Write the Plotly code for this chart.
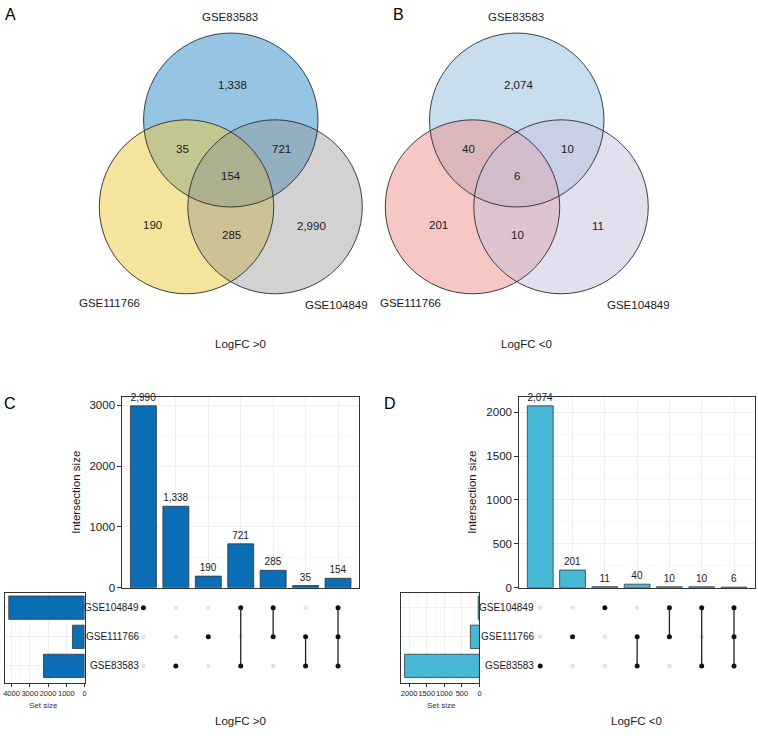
import plotly.graph_objects as go

# ------------------------------------------------------------------ data
venn_sets = ["GSE83583", "GSE111766", "GSE104849"]
venn_regions = ["GSE83583 only", "GSE111766 & GSE83583", "GSE104849 & GSE83583",
                "all three", "GSE111766 only", "GSE104849 & GSE111766", "GSE104849 only"]
venn_up_counts = [1338, 35, 721, 154, 190, 285, 2990]
venn_down_counts = [2074, 40, 10, 6, 201, 10, 11]

upset_sets = ["GSE104849", "GSE111766", "GSE83583"]          # top -> bottom
up_sizes = [2990, 1338, 190, 721, 285, 35, 154]
up_members = [["GSE104849"], ["GSE83583"], ["GSE111766"],
              ["GSE104849", "GSE83583"], ["GSE104849", "GSE111766"],
              ["GSE111766", "GSE83583"], ["GSE104849", "GSE111766", "GSE83583"]]
down_sizes = [2074, 201, 11, 40, 10, 10, 6]
down_members = [["GSE83583"], ["GSE111766"], ["GSE104849"],
                ["GSE111766", "GSE83583"], ["GSE104849", "GSE111766"],
                ["GSE104849", "GSE83583"], ["GSE104849", "GSE111766", "GSE83583"]]

up_bar_ticks = [0, 1000, 2000, 3000]
up_bar_minor = [500, 1500, 2500]
down_bar_ticks = [0, 500, 1000, 1500, 2000]
down_bar_minor = [250, 750, 1250, 1750]
up_set_ticks = [0, 1000, 2000, 3000, 4000]
up_set_minor = [500, 1500, 2500, 3500]
down_set_ticks = [0, 500, 1000, 1500, 2000]
down_set_minor = [250, 750, 1250, 1750]

# ------------------------------------------------------------------ layout helpers
W, H = 758, 736
FONT = "Liberation Sans, Arial, Helvetica, sans-serif"
TXT = "#1a1a1a"
GRID = "#EBEBEB"
GRID_MINOR = "#F4F4F4"
BORDER = "#333333"


def px(xp):
    return xp / W


def py(yp):
    return 1 - yp / H


def ann(**kw):
    d = dict(showarrow=False, xanchor="center", yanchor="middle")
    d.update(kw)
    return d


fig = go.Figure()
shapes = []
annotations = []

# ------------------------------------------------------------------ Venn diagrams
venn_panels = [
    dict(center=(230.5, 177), counts=venn_up_counts,
         fills=["rgba(45,139,201,0.5)", "rgba(235,201,55,0.5)", "rgba(142,142,142,0.4)"],
         labels=[(229, 17), (108, 305), (336, 308)], title=(240, 347), title_text="LogFC >0",
         letter=("A", 9, 15)),
    dict(center=(518, 177), counts=venn_down_counts,
         fills=["rgba(145,189,221,0.5)", "rgba(237,143,137,0.5)", "rgba(197,193,221,0.5)"],
         labels=[(517, 17), (411, 305), (640, 308)], title=(527, 347), title_text="LogFC <0",
         letter=("B", 399, 15)),
]
circle_offsets = [(-0.5, -56), (-45, 31.5), (44, 31.5)]
R = 87.7
region_offsets = [(1, -91), (-49, -27), (50, -27), (0, 0), (-79, 50), (0, 60), (81, 51)]

for p in venn_panels:
    cx, cy = p["center"]
    for (dx, dy), fc in zip(circle_offsets, p["fills"]):
        shapes.append(dict(type="circle", xref="x", yref="y",
                           x0=cx + dx - R, x1=cx + dx + R, y0=cy + dy - R, y1=cy + dy + R,
                           fillcolor=fc, line=dict(width=0)))
    for (dx, dy) in circle_offsets:
        shapes.append(dict(type="circle", xref="x", yref="y",
                           x0=cx + dx - R, x1=cx + dx + R, y0=cy + dy - R, y1=cy + dy + R,
                           fillcolor="rgba(0,0,0,0)", line=dict(width=0.9, color="#2a2a2a")))
    for (dx, dy), v in zip(region_offsets, p["counts"]):
        annotations.append(ann(x=cx + dx, y=cy + dy, xref="x", yref="y", text=f"{v:,}",
                               font=dict(size=11.5, color=TXT, family=FONT)))
    for (lx, ly), name in zip(p["labels"], venn_sets):
        annotations.append(ann(x=lx, y=ly, xref="x", yref="y", text=name,
                               font=dict(size=11.5, color=TXT, family=FONT)))
    annotations.append(ann(x=p["title"][0], y=p["title"][1], xref="x", yref="y",
                           text=p["title_text"], font=dict(size=11.5, color=TXT, family=FONT)))
    L, lx, ly = p["letter"]
    annotations.append(ann(x=px(lx), y=py(ly), xref="paper", yref="paper", text=L,
                           font=dict(size=16, color="#000", family=FONT)))

# ------------------------------------------------------------------ UpSet plots
row_of = {s: 3 - i for i, s in enumerate(upset_sets)}

upset_panels = [
    dict(sizes=up_sizes, members=up_members, color="#0B6DB5",
         bar_ticks=up_bar_ticks, bar_minor=up_bar_minor,
         set_ticks=up_set_ticks, set_minor=up_set_minor,
         bar_dom=(121, 359), set_dom=(3, 83), ytitle_x=75, name_right=140,
         setsize_label=(42, 711), bottom=(240, 727), bottom_text="LogFC >0",
         letter=("C", 8, 407), ax=("2", "3", "4")),
    dict(sizes=down_sizes, members=down_members, color="#47B8D5",
         bar_ticks=down_bar_ticks, bar_minor=down_bar_minor,
         set_ticks=down_set_ticks, set_minor=down_set_minor,
         bar_dom=(520, 757), set_dom=(401, 480), ytitle_x=473, name_right=537,
         setsize_label=(442, 711), bottom=(638, 727), bottom_text="LogFC <0",
         letter=("D", 390, 407), ax=("5", "6", "7")),
]

bar_ydom = [py(592.5), py(400)]
mat_ydom = [py(689), py(598)]
xcat_range = [0.35, 7.65]
row_range = [0.4, 3.5]

layout_axes = {}
layout_axes["xaxis"] = dict(domain=[0, 1], range=[0, W], visible=False)
layout_axes["yaxis"] = dict(domain=[py(380), 1], range=[380, 0], visible=False)

for p in upset_panels:
    ab, am, aset = p["ax"]
    n = len(p["sizes"])
    xs = list(range(1, n + 1))
    # intersection bars
    fig.add_trace(go.Bar(x=xs, y=p["sizes"], width=0.8, xaxis="x" + ab, yaxis="y" + ab,
                         marker=dict(color=p["color"], line=dict(color=BORDER, width=0.8)),
                         text=[f"{v:,}" for v in p["sizes"]], textposition="outside",
                         textfont=dict(size=10, color=TXT, family=FONT),
                         constraintext="none", cliponaxis=False, hoverinfo="skip"))
    # matrix
    inx, iny, acx, acy, lx, ly = [], [], [], [], [], []
    for x, mem in zip(xs, p["members"]):
        rows = [row_of[s] for s in mem]
        for s in upset_sets:
            r = row_of[s]
            if s in mem:
                acx.append(x); acy.append(r)
            else:
                inx.append(x); iny.append(r)
        if len(rows) > 1:
            lx += [x, x, None]
            ly += [min(rows), max(rows), None]
    fig.add_trace(go.Scatter(x=inx, y=iny, mode="markers", xaxis="x" + am, yaxis="y" + am,
                             marker=dict(size=4.5, color="#E3E3E3"), hoverinfo="skip"))
    fig.add_trace(go.Scatter(x=lx, y=ly, mode="lines", xaxis="x" + am, yaxis="y" + am,
                             line=dict(color="#222222", width=1.3), hoverinfo="skip"))
    fig.add_trace(go.Scatter(x=acx, y=acy, mode="markers", xaxis="x" + am, yaxis="y" + am,
                             marker=dict(size=5, color="#111111"), hoverinfo="skip"))
    # set sizes
    set_sizes = [sum(v for v, m in zip(p["sizes"], p["members"]) if s in m) for s in upset_sets]
    fig.add_trace(go.Bar(x=set_sizes, y=[row_of[s] for s in upset_sets], orientation="h",
                         width=0.8, xaxis="x" + aset, yaxis="y" + aset,
                         marker=dict(color=p["color"], line=dict(color=BORDER, width=0.8)),
                         hoverinfo="skip"))

    bd = [px(p["bar_dom"][0]), px(p["bar_dom"][1])]
    sd = [px(p["set_dom"][0]), px(p["set_dom"][1])]
    boxed = dict(showline=True, mirror=True, linecolor=BORDER, linewidth=1)
    layout_axes["xaxis" + ab] = dict(domain=bd, range=xcat_range, anchor="y" + ab,
                                     tickvals=xs, showticklabels=False, ticks="",
                                     showgrid=True, gridcolor=GRID, gridwidth=0.8,
                                     zeroline=False, **boxed)
    layout_axes["yaxis" + ab] = dict(domain=bar_ydom, range=[0, 1.05 * max(p["sizes"])],
                                     anchor="x" + ab, tickvals=p["bar_ticks"],
                                     ticks="outside", ticklen=4, tickcolor=BORDER,
                                     tickfont=dict(size=11.5, color=TXT, family=FONT),
                                     showgrid=True, gridcolor=GRID, gridwidth=0.8,
                                     minor=dict(tickvals=p["bar_minor"], showgrid=True,
                                                gridcolor=GRID_MINOR, gridwidth=0.6, ticks=""),
                                     zeroline=False, **boxed)
    layout_axes["xaxis" + am] = dict(domain=bd, range=xcat_range, anchor="y" + am,
                                     visible=False)
    layout_axes["yaxis" + am] = dict(domain=mat_ydom, range=row_range, anchor="x" + am,
                                     visible=False)
    layout_axes["xaxis" + aset] = dict(domain=sd, range=[1.05 * max(set_sizes), 0],
                                       anchor="y" + aset, tickvals=p["set_ticks"],
                                       ticks="outside", ticklen=3, tickcolor=BORDER,
                                       tickangle=0,
                                       tickfont=dict(size=7.5, color=TXT, family=FONT),
                                       showgrid=True, gridcolor=GRID, gridwidth=0.8,
                                       minor=dict(tickvals=p["set_minor"], showgrid=True,
                                                  gridcolor=GRID_MINOR, gridwidth=0.6, ticks=""),
                                       zeroline=False, **boxed)
    layout_axes["yaxis" + aset] = dict(domain=mat_ydom, range=row_range, anchor="x" + aset,
                                       tickvals=[1, 2, 3], showticklabels=False, ticks="",
                                       showgrid=True, gridcolor=GRID, gridwidth=0.8,
                                       zeroline=False, **boxed)

    # texts
    annotations.append(ann(x=px(p["ytitle_x"]), y=0.5, xref="paper", yref="y" + ab + " domain",
                           text="Intersection size", textangle=-90,
                           font=dict(size=11.5, color=TXT, family=FONT)))
    for s in upset_sets:
        annotations.append(ann(x=px(p["name_right"]), y=row_of[s], xref="paper",
                               yref="y" + am, text=s, xanchor="right",
                               font=dict(size=10, color=TXT, family=FONT)))
    annotations.append(ann(x=px(p["setsize_label"][0]), y=py(p["setsize_label"][1]),
                           xref="paper", yref="paper", text="Set size",
                           font=dict(size=8, color="#333", family=FONT)))
    annotations.append(ann(x=px(p["bottom"][0]), y=py(p["bottom"][1]), xref="paper",
                           yref="paper", text=p["bottom_text"],
                           font=dict(size=11.5, color=TXT, family=FONT)))
    L, lxp, lyp = p["letter"]
    annotations.append(ann(x=px(lxp), y=py(lyp), xref="paper", yref="paper", text=L,
                           font=dict(size=16, color="#000", family=FONT)))

fig.update_layout(
    width=W, height=H, margin=dict(l=0, r=0, t=0, b=0),
    paper_bgcolor="white", plot_bgcolor="white", showlegend=False,
    font=dict(family=FONT, color=TXT), bargap=0,
    shapes=shapes, annotations=annotations, **layout_axes,
)

fig.write_html(
    "out.html",
    config={"displayModeBar": False, "staticPlot": True},
    post_script=("document.documentElement.style.margin='0px';"
                 "document.body.style.margin='0px';"
                 "document.body.style.padding='0px';"
                 "document.documentElement.style.overflow='hidden';"
                 "document.body.style.overflow='hidden';"),
)
